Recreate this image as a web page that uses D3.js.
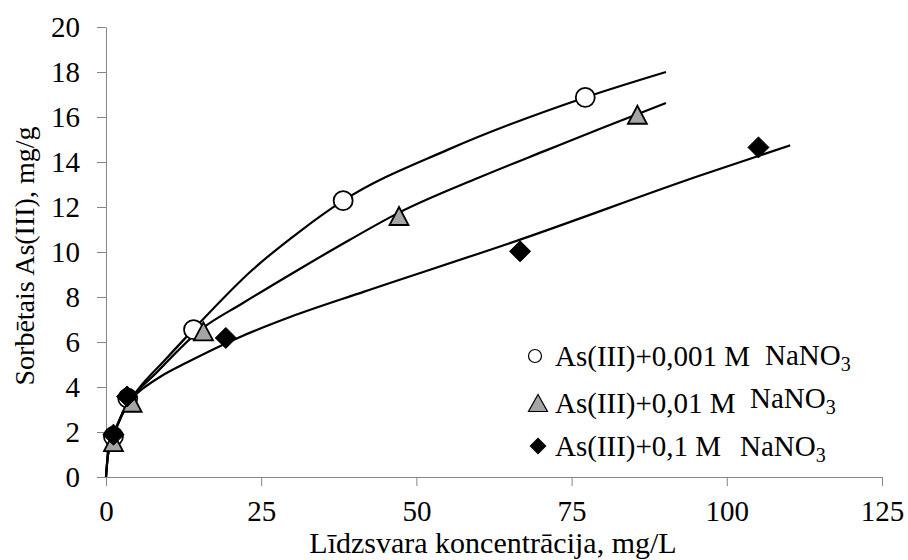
<!DOCTYPE html>
<html><head><meta charset="utf-8">
<script src="https://cdn.jsdelivr.net/npm/d3@7"></script>
<style>
body{margin:0;background:#fff}
text{font-family:"Liberation Serif","Times New Roman",serif;fill:#000}
</style>
</head><body>
<svg id="c" width="908" height="560"></svg>
<script>
// ---- data ----
const xTicks = [0, 25, 50, 75, 100, 125];
const yTicks = [0, 2, 4, 6, 8, 10, 12, 14, 16, 18, 20];
const xTitle = "Līdzsvara koncentrācija, mg/L";
const yTitle = "Sorbētais As(III), mg/g";

// measured points
const s1X = [1.2, 3.5, 14.1, 38.2, 77.2];
const s1Y = [1.8, 3.5, 6.55, 12.28, 16.87];
const s2X = [1.2, 4.2, 15.7, 47.2, 85.6];
const s2Y = [1.55, 3.3, 6.47, 11.6, 16.1];
const s3X = [1.2, 3.4, 19.3, 66.7, 105.1];
const s3Y = [1.88, 3.58, 6.18, 10.03, 14.65];

// model (trend) curves
const f1X = [0, 0.3, 1.2, 2.5, 4, 5.05, 9.5, 14.06, 23.6, 31.25, 38.2, 55.1, 77.2, 90.2];
const f1Y = [0, 0.95, 1.85, 2.75, 3.45, 3.85, 5.2, 6.55, 9.21, 10.92, 12.28, 14.55, 16.87, 18.0];
const f2X = [0, 0.3, 1.2, 2.5, 4.35, 8, 15.25, 22, 31.4, 39, 47.2, 60, 71.2, 79.6, 90.2];
const f2Y = [0, 0.95, 1.8, 2.7, 3.55, 4.6, 6.55, 7.72, 9.28, 10.5, 11.75, 13.3, 14.55, 15.48, 16.62];
const f3X = [0, 0.3, 1.2, 2.5, 4.35, 5.8, 9, 13.1, 21.15, 29.75, 41.6, 66.7, 95.7, 110.2];
const f3Y = [0, 0.95, 1.85, 2.75, 3.55, 3.9, 4.5, 5.1, 6.17, 7.12, 8.24, 10.55, 13.4, 14.74];

const legendMain = ["As(III)+0,001 M", "As(III)+0,01 M", "As(III)+0,1 M"];
const legendChem = ["NaNO", "NaNO", "NaNO"];
const legendSub = ["3", "3", "3"];

// ---- drawing ----
const svg = d3.select("#c");
const axisColor = "#868686";
const x = d3.scaleLinear().domain([0, 125]).range([106, 882]);
const y = d3.scaleLinear().domain([0, 20]).range([477, 27]);

// y axis
const gy = svg.append("g").attr("transform", "translate(106,0)")
  .call(d3.axisLeft(y).tickValues(yTicks).tickSize(9).tickSizeOuter(0).tickPadding(17));
gy.select(".domain").attr("stroke", axisColor);
gy.selectAll(".tick line").attr("stroke", axisColor);
gy.selectAll(".tick text").attr("font-size", 29).attr("fill", "#000")
  .attr("font-family", "Liberation Serif");

// x axis
const gx = svg.append("g").attr("transform", "translate(0,477)")
  .call(d3.axisBottom(x).tickValues(xTicks).tickSize(9).tickSizeOuter(0).tickPadding(14));
gx.select(".domain").attr("stroke", axisColor);
gx.selectAll(".tick line").attr("stroke", axisColor);
gx.selectAll(".tick text").attr("font-size", 29).attr("fill", "#000")
  .attr("font-family", "Liberation Serif");

// titles
svg.append("text").attr("x", 493).attr("y", 553).attr("text-anchor", "middle")
  .attr("font-size", 30).text(xTitle);
svg.append("text").attr("transform", "translate(34,256) rotate(-90)")
  .attr("text-anchor", "middle").attr("font-size", 28).text(yTitle);

// curves
const line = d3.line().x(d => x(d[0])).y(d => y(d[1])).curve(d3.curveMonotoneX);
[[f1X, f1Y], [f2X, f2Y], [f3X, f3Y]].forEach(([xs, ys]) => {
  svg.append("path").datum(xs.map((v, i) => [v, ys[i]]))
    .attr("d", line).attr("fill", "none").attr("stroke", "#000").attr("stroke-width", 2.2);
});

// markers
const triPath = (w, h) => `M0,${-h/2}L${w/2},${h/2}L${-w/2},${h/2}Z`;
const diaPath = r => `M0,${-r}L${r},0L0,${r}L${-r},0Z`;

svg.append("g").selectAll("circle").data(s1X.map((v, i) => [v, s1Y[i]])).join("circle")
  .attr("cx", d => x(d[0])).attr("cy", d => y(d[1])).attr("r", 9.5)
  .attr("fill", "#fff").attr("stroke", "#000").attr("stroke-width", 1.8);
svg.append("g").selectAll("path").data(s2X.map((v, i) => [v, s2Y[i]])).join("path")
  .attr("transform", d => `translate(${x(d[0])},${y(d[1])})`).attr("d", triPath(19, 18))
  .attr("fill", "#a5a5a5").attr("stroke", "#000").attr("stroke-width", 1.8);
svg.append("g").selectAll("path").data(s3X.map((v, i) => [v, s3Y[i]])).join("path")
  .attr("transform", d => `translate(${x(d[0])},${y(d[1])})`).attr("d", diaPath(10.5))
  .attr("fill", "#000").attr("stroke", "#000").attr("stroke-width", 1);

// legend
const lg = svg.append("g");
const rowY = [356, 403, 446];
const chemX = [765, 750, 740];
const chemDy = [-1, -5, 0];
lg.append("circle").attr("cx", 535).attr("cy", rowY[0]).attr("r", 6.5)
  .attr("fill", "#fff").attr("stroke", "#000").attr("stroke-width", 1.2);
lg.append("path").attr("transform", `translate(538,${rowY[1]})`).attr("d", triPath(19, 17))
  .attr("fill", "#a5a5a5").attr("stroke", "#000").attr("stroke-width", 1.2);
lg.append("path").attr("transform", `translate(538,${rowY[2]})`).attr("d", diaPath(8.5))
  .attr("fill", "#000");
legendMain.forEach((t, i) => {
  lg.append("text").attr("x", 555).attr("y", rowY[i] + 10).attr("font-size", 29).text(t);
  const tt = lg.append("text").attr("x", chemX[i]).attr("y", rowY[i] + 10 + chemDy[i]).attr("font-size", 29);
  tt.append("tspan").text(legendChem[i]);
  tt.append("tspan").attr("font-size", 20).attr("dy", 6).text(legendSub[i]);
});
</script>
</body></html>
